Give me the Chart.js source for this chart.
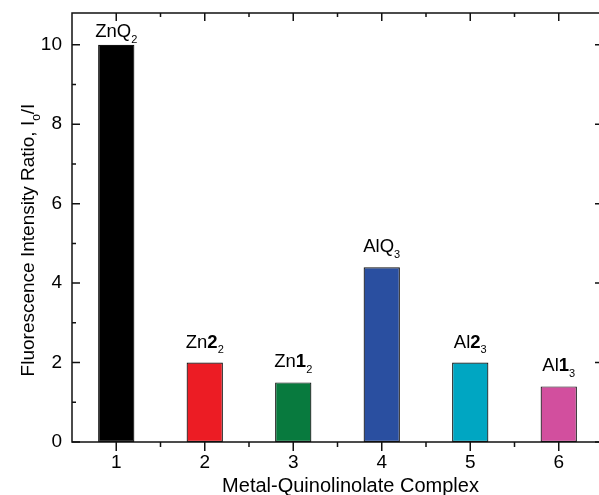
<!DOCTYPE html>
<html>
<head>
<meta charset="utf-8">
<script src="https://cdn.jsdelivr.net/npm/chart.js@4"></script>
<style>
  html, body { margin: 0; padding: 0; background: #fff; overflow: hidden; }
  #wrap { width: 604px; height: 495px; }
</style>
</head>
<body>
<div id="wrap"><canvas id="chart"></canvas></div>
<script>
const categories = ['1', '2', '3', '4', '5', '6'];
const ratios = [10, 2, 1.5, 4.4, 2, 1.4];
const barColors = ['#000000', '#ec1c24', '#087a3e', '#2a4fa0', '#00a6c2', '#d24f9e'];
// label pieces: [text, style]  style: '' normal, 'b' bold, 's' subscript
const barLabels = [
    [['ZnQ', ''], ['2', 's']],
    [['Zn', ''], ['2', 'b'], ['2', 's']],
    [['Zn', ''], ['1', 'b'], ['2', 's']],
    [['AlQ', ''], ['3', 's']],
    [['Al', ''], ['2', 'b'], ['3', 's']],
    [['Al', ''], ['1', 'b'], ['3', 's']]
];
const yTicks = { min: 0, max: 10.8, step: 2 };
const yTitle = [['Fluorescence Intensity Ratio, I', ''], ['o', 's'], ['/I', '']];
const xTitle = 'Metal-Quinolinolate Complex';

const FONT = '"Liberation Sans", Arial, sans-serif';

function fontFor(style, size) {
    if (style === 's') return Math.round(size * 0.62) + 'px ' + FONT;
    if (style === 'b') return 'bold ' + size + 'px ' + FONT;
    return size + 'px ' + FONT;
}

function richWidth(ctx, parts, size) {
    let w = 0;
    parts.forEach(([t, s]) => { ctx.font = fontFor(s, size); w += ctx.measureText(t).width; });
    return w;
}

// draws centred at x, on baseline y (in current transform)
function drawRich(ctx, parts, x, y, size) {
    let cx = x - richWidth(ctx, parts, size) / 2;
    ctx.textAlign = 'left';
    ctx.textBaseline = 'alphabetic';
    parts.forEach(([t, s]) => {
        ctx.font = fontFor(s, size);
        ctx.fillText(t, cx, s === 's' ? y + size * 0.3 : y);
        cx += ctx.measureText(t).width;
    });
}

const framePlugin = {
    id: 'frame',
    afterDatasetsDraw(chart) {
        const ctx = chart.ctx;
        const { left, right, top, bottom } = chart.chartArea;
        const xs = chart.scales.x, ys = chart.scales.y;
        ctx.save();
        ctx.strokeStyle = '#111';
        ctx.lineWidth = 1.5;
        ctx.strokeRect(left, top, right - left, bottom - top);

        ctx.beginPath();
        // y ticks, inward on both sides
        for (let v = yTicks.min; v <= yTicks.max; v += 1) {
            const py = ys.getPixelForValue(v);
            const len = v % 2 === 0 ? 8 : 4;
            ctx.moveTo(left, py); ctx.lineTo(left + len, py);
            ctx.moveTo(right, py); ctx.lineTo(right - len, py);
        }
        // x ticks: bottom outward, top inward
        categories.forEach((c, i) => {
            const px = xs.getPixelForValue(i);
            ctx.moveTo(px, bottom); ctx.lineTo(px, bottom + 9);
            ctx.moveTo(px, top); ctx.lineTo(px, top + 8);
            if (i < categories.length - 1) {
                const mx = (px + xs.getPixelForValue(i + 1)) / 2;
                ctx.moveTo(mx, bottom); ctx.lineTo(mx, bottom + 5);
                ctx.moveTo(mx, top); ctx.lineTo(mx, top + 4);
            }
        });
        ctx.stroke();

        // bar labels
        ctx.fillStyle = '#000';
        const meta = chart.getDatasetMeta(0);
        meta.data.forEach((bar, i) => {
            const base = Math.max(bar.y - 15, top + 24);
            drawRich(ctx, barLabels[i], bar.x, base, 18.5);
        });

        // axis titles
        drawRich(ctx, [[xTitle, '']], (left + right) / 2 + 13, 492, 20);
        ctx.translate(34, 240);
        ctx.rotate(-Math.PI / 2);
        drawRich(ctx, yTitle, 0, 0, 19);
        ctx.restore();
    }
};

new Chart(document.getElementById('chart'), {
    type: 'bar',
    data: {
        labels: categories,
        datasets: [{
            data: ratios,
            backgroundColor: barColors,
            borderColor: '#111',
            borderWidth: 1.2,
            borderSkipped: false,
            categoryPercentage: 1,
            barPercentage: 0.41
        }]
    },
    options: {
        responsive: true,
        maintainAspectRatio: false,
        animation: false,
        layout: { padding: { top: 13, right: 1, left: 0, bottom: 0 } },
        plugins: { legend: { display: false }, tooltip: { enabled: false } },
        scales: {
            x: {
                grid: { display: false, drawTicks: false },
                border: { display: false },
                ticks: { color: '#000', font: { family: FONT, size: 19 }, padding: 9 },
                afterFit(scale) {
                    scale.height = 53;
                    scale.paddingLeft = 0; scale.paddingRight = 0;
                }
            },
            y: {
                min: yTicks.min,
                max: yTicks.max,
                grid: { display: false, drawTicks: false },
                border: { display: false },
                ticks: { stepSize: yTicks.step, includeBounds: false, color: '#000',
                         font: { family: FONT, size: 19 }, padding: 10 },
                afterFit(scale) {
                    scale.width = 72;
                    scale.paddingTop = 0; scale.paddingBottom = 0;
                }
            }
        }
    },
    plugins: [framePlugin]
});
</script>
</body>
</html>
